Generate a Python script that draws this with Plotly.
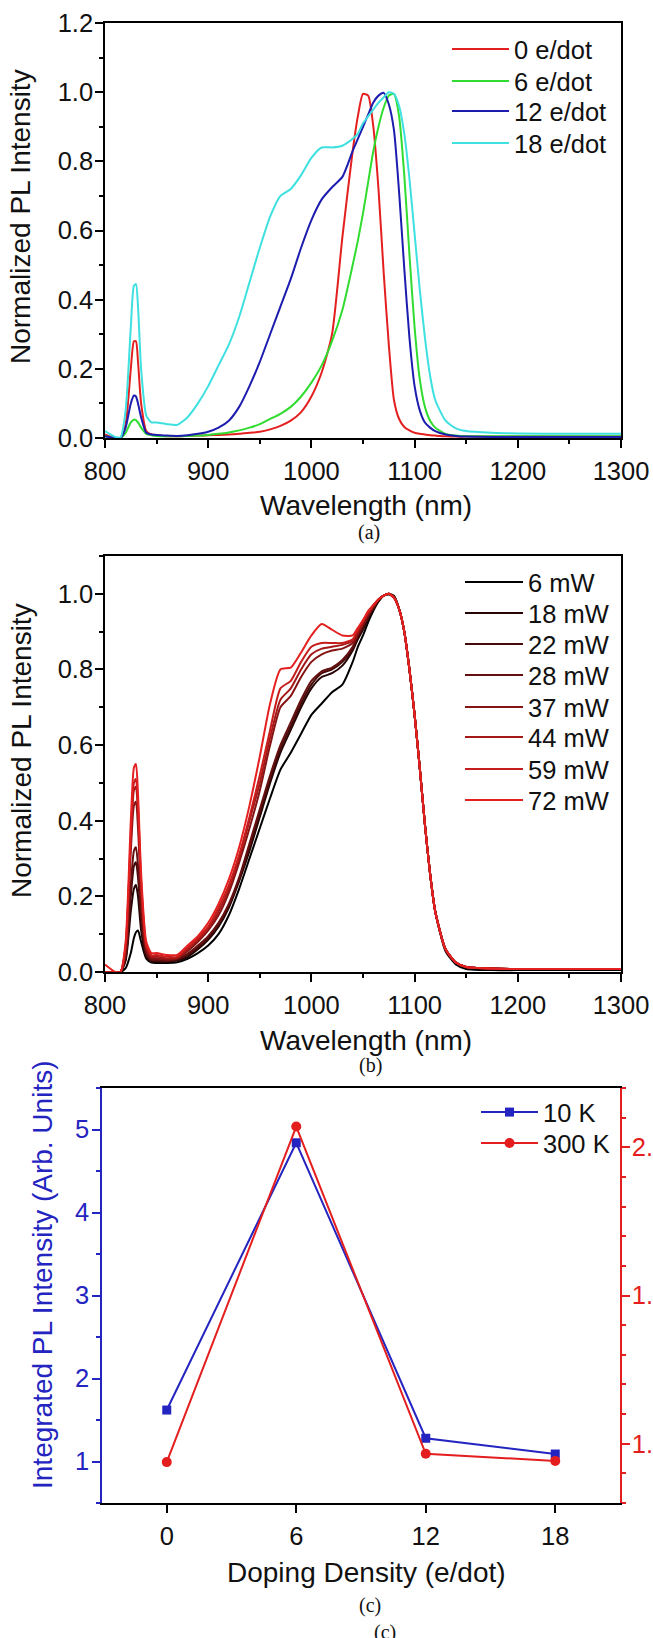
import plotly.graph_objects as go

# ---------------- data ----------------
wl = [800, 810, 815, 820, 825, 828, 830, 832, 835, 840,
      845, 850, 860, 870, 880, 890, 900, 910, 920, 930,
      940, 950, 960, 970, 980, 990, 1000, 1010, 1020, 1030,
      1040, 1045, 1050, 1055, 1060, 1065, 1070, 1075, 1080, 1085,
      1090, 1095, 1100, 1105, 1110, 1115, 1120, 1130, 1140, 1150,
      1175, 1200, 1250, 1300]

# panel (a): doping series
a_names = ["0 e/dot", "6 e/dot", "12 e/dot", "18 e/dot"]
a_0 = [0.01, 0.0, 0.0, 0.04, 0.2, 0.28, 0.28, 0.22, 0.1, 0.02,
       0.01, 0.008, 0.005, 0.005, 0.006, 0.007, 0.008, 0.009, 0.01, 0.012,
       0.015, 0.018, 0.025, 0.035, 0.05, 0.075, 0.12, 0.19, 0.3, 0.58,
       0.83, 0.93, 0.995, 0.99, 0.9, 0.72, 0.48, 0.27, 0.11, 0.055,
       0.032, 0.022, 0.015, 0.012, 0.01, 0.008, 0.007, 0.005, 0.004, 0.004,
       0.004, 0.004, 0.004, 0.004]
a_6 = [0.005, 0.0, 0.0, 0.015, 0.045, 0.053, 0.052, 0.045, 0.03, 0.012,
       0.008, 0.006, 0.005, 0.005, 0.006, 0.007, 0.009, 0.012, 0.016, 0.022,
       0.03, 0.04, 0.055, 0.07, 0.09, 0.12, 0.16, 0.21, 0.28, 0.37,
       0.5, 0.57, 0.65, 0.74, 0.83, 0.9, 0.955, 0.99, 0.995, 0.93,
       0.76, 0.53, 0.32, 0.17, 0.09, 0.05, 0.03, 0.012, 0.007, 0.005,
       0.005, 0.005, 0.005, 0.005]
a_12 = [0.005, 0.0, 0.0, 0.03, 0.1, 0.123, 0.12, 0.1, 0.06, 0.015,
        0.01, 0.009, 0.007, 0.006, 0.008, 0.012, 0.018, 0.03, 0.05, 0.09,
        0.15, 0.22, 0.3, 0.38, 0.46, 0.55, 0.63, 0.69, 0.725, 0.755,
        0.83, 0.865, 0.9, 0.935, 0.97, 0.99, 0.998, 0.965, 0.89, 0.71,
        0.49, 0.29, 0.15, 0.08, 0.045, 0.03, 0.02, 0.01, 0.006, 0.004,
        0.003, 0.003, 0.003, 0.003]
a_18 = [0.02, 0.003, 0.002, 0.08, 0.32, 0.44, 0.445, 0.38, 0.2, 0.065,
        0.045, 0.045, 0.04, 0.038, 0.06, 0.1, 0.15, 0.21, 0.27, 0.35,
        0.45, 0.55, 0.64, 0.7, 0.72, 0.76, 0.81, 0.84, 0.84, 0.845,
        0.865, 0.88, 0.91, 0.93, 0.95, 0.97, 0.985, 1.0, 0.995, 0.96,
        0.88, 0.75, 0.59, 0.43, 0.29, 0.18, 0.11, 0.05, 0.028, 0.02,
        0.015, 0.013, 0.012, 0.012]

# panel (b): excitation power series
b_names = ["6 mW", "18 mW", "22 mW", "28 mW", "37 mW", "44 mW", "59 mW", "72 mW"]
b_6 = [0.0, 0.0, 0.0, 0.01, 0.05, 0.09, 0.105, 0.11, 0.08, 0.035,
       0.025, 0.024, 0.024, 0.026, 0.035, 0.05, 0.07, 0.1, 0.15, 0.22,
       0.3, 0.38, 0.46, 0.535, 0.58, 0.63, 0.68, 0.71, 0.74, 0.76,
       0.82, 0.86, 0.89, 0.925, 0.955, 0.98, 0.995, 0.998, 0.995, 0.96,
       0.9, 0.8, 0.68, 0.54, 0.39, 0.26, 0.16, 0.055, 0.02, 0.008,
       0.005, 0.005, 0.005, 0.005]
b_18 = [0.0, 0.0, 0.0, 0.03, 0.16, 0.22, 0.23, 0.2, 0.11, 0.04,
        0.028, 0.027, 0.027, 0.03, 0.04, 0.06, 0.085, 0.12, 0.17, 0.24,
        0.32, 0.41, 0.5, 0.58, 0.64, 0.7, 0.75, 0.78, 0.79, 0.81,
        0.85, 0.88, 0.905, 0.935, 0.96, 0.98, 0.995, 1.0, 0.993, 0.96,
        0.9, 0.8, 0.68, 0.54, 0.39, 0.26, 0.16, 0.06, 0.025, 0.013,
        0.009, 0.008, 0.008, 0.008]
b_22 = [0.0, 0.0, 0.0, 0.035, 0.2, 0.28, 0.29, 0.25, 0.14, 0.045,
        0.03, 0.03, 0.029, 0.032, 0.045, 0.065, 0.09, 0.125, 0.175, 0.245,
        0.33, 0.42, 0.51, 0.59, 0.65, 0.71, 0.76, 0.79, 0.8, 0.82,
        0.855, 0.885, 0.91, 0.94, 0.96, 0.985, 0.995, 1.0, 0.992, 0.96,
        0.9, 0.8, 0.68, 0.54, 0.39, 0.26, 0.16, 0.06, 0.025, 0.013,
        0.009, 0.008, 0.008, 0.008]
b_28 = [0.0, 0.0, 0.0, 0.04, 0.23, 0.32, 0.33, 0.28, 0.16, 0.05,
        0.032, 0.032, 0.03, 0.034, 0.048, 0.07, 0.095, 0.13, 0.18, 0.25,
        0.34, 0.43, 0.52, 0.6, 0.66, 0.72, 0.77, 0.795, 0.805, 0.825,
        0.86, 0.89, 0.915, 0.94, 0.965, 0.985, 0.995, 1.0, 0.99, 0.96,
        0.9, 0.8, 0.68, 0.54, 0.39, 0.26, 0.16, 0.06, 0.025, 0.013,
        0.009, 0.008, 0.008, 0.008]
b_37 = [0.0, 0.0, 0.0, 0.06, 0.32, 0.44, 0.45, 0.38, 0.21, 0.06,
        0.036, 0.036, 0.033, 0.036, 0.055, 0.08, 0.11, 0.15, 0.21, 0.29,
        0.38, 0.48, 0.6, 0.7, 0.73, 0.78, 0.82, 0.84, 0.85, 0.855,
        0.87, 0.895, 0.92, 0.945, 0.965, 0.985, 0.995, 1.0, 0.99, 0.96,
        0.9, 0.8, 0.68, 0.54, 0.39, 0.26, 0.16, 0.06, 0.025, 0.013,
        0.009, 0.008, 0.008, 0.008]
b_44 = [0.0, 0.0, 0.0, 0.065, 0.35, 0.48, 0.49, 0.42, 0.23, 0.065,
        0.04, 0.04, 0.036, 0.038, 0.06, 0.085, 0.115, 0.16, 0.22, 0.3,
        0.4, 0.5, 0.62, 0.72, 0.75, 0.8, 0.84, 0.855, 0.86, 0.865,
        0.875, 0.9, 0.925, 0.95, 0.97, 0.985, 0.995, 1.0, 0.99, 0.96,
        0.9, 0.8, 0.68, 0.54, 0.39, 0.26, 0.16, 0.06, 0.025, 0.013,
        0.009, 0.008, 0.008, 0.008]
b_59 = [0.0, 0.0, 0.0, 0.07, 0.36, 0.5, 0.51, 0.44, 0.24, 0.07,
        0.044, 0.045, 0.04, 0.04, 0.065, 0.09, 0.12, 0.17, 0.23, 0.31,
        0.41, 0.52, 0.64, 0.75, 0.77, 0.82, 0.86, 0.87, 0.87, 0.87,
        0.88, 0.905, 0.93, 0.95, 0.97, 0.985, 0.995, 1.0, 0.99, 0.96,
        0.9, 0.8, 0.68, 0.54, 0.39, 0.26, 0.16, 0.06, 0.025, 0.013,
        0.009, 0.008, 0.008, 0.008]
b_72 = [0.02, 0.0, 0.0, 0.08, 0.4, 0.54, 0.55, 0.47, 0.26, 0.08,
        0.05, 0.05, 0.045, 0.045, 0.07, 0.095, 0.13, 0.18, 0.245, 0.33,
        0.44, 0.57, 0.71, 0.8, 0.805, 0.845, 0.89, 0.92, 0.905, 0.89,
        0.89, 0.91, 0.93, 0.955, 0.97, 0.985, 0.995, 1.0, 0.99, 0.96,
        0.9, 0.8, 0.68, 0.54, 0.39, 0.26, 0.16, 0.06, 0.025, 0.013,
        0.009, 0.008, 0.008, 0.008]

# panel (c): integrated intensity
doping = [0, 6, 12, 18]
int_10K = [1.62, 4.84, 1.28, 1.09]
int_300K = [0.938, 2.07, 0.966, 0.942]

# ---------------- styling ----------------
W, H = 653, 1638
SANS = "Liberation Sans, Arial, sans-serif"
SERIF = "Liberation Serif, Times New Roman, serif"
BLUE = "#2424c0"
RED = "#e41e1e"
a_colors = ["#e41f1f", "#2fdc2f", "#1c1cae", "#3ee0e0"]
b_colors = ["#000000", "#250505", "#450a0a", "#651010", "#851414", "#a51818", "#c51c1c", "#e52020"]
TICK_SIZE = 25.5


def fx(p):
    return p / W


def fy(p):
    return 1 - p / H


fig = go.Figure()

a_series = [a_0, a_6, a_12, a_18]
a_rows = [49, 81, 111, 143]
legend_specs = []
for i, (nm, ys, c) in enumerate(zip(a_names, a_series, a_colors)):
    lid = "legend" if i == 0 else f"legend{i + 1}"
    fig.add_trace(go.Scatter(x=wl, y=ys, name=nm, mode="lines",
                             line=dict(color=c, width=2, shape="spline", smoothing=0.6),
                             xaxis="x", yaxis="y", legend=lid))
    legend_specs.append((lid, 447, a_rows[i], 57))

b_series = [b_6, b_18, b_22, b_28, b_37, b_44, b_59, b_72]
b_rows = [582, 613, 644, 675, 707, 737, 769, 800]
for j, (nm, ys, c) in enumerate(zip(b_names, b_series, b_colors)):
    lid = f"legend{5 + j}"
    fig.add_trace(go.Scatter(x=wl, y=ys, name=nm, mode="lines",
                             line=dict(color=c, width=2, shape="spline", smoothing=0.6),
                             xaxis="x2", yaxis="y2", legend=lid))
    legend_specs.append((lid, 460, b_rows[j], 58))

fig.add_trace(go.Scatter(x=doping, y=int_10K, name="10 K", mode="lines+markers",
                         line=dict(color=BLUE, width=2),
                         marker=dict(symbol="square", size=9, color=BLUE),
                         xaxis="x3", yaxis="y3", legend="legend13"))
legend_specs.append(("legend13", 476, 1112, 57))
fig.add_trace(go.Scatter(x=doping, y=int_300K, name="300 K", mode="lines+markers",
                         line=dict(color=RED, width=2),
                         marker=dict(symbol="circle", size=10, color=RED),
                         xaxis="x3", yaxis="y4", legend="legend14"))
legend_specs.append(("legend14", 476, 1143, 57))

layout_legends = {}
for lid, lx, row, iw in legend_specs:
    layout_legends[lid] = dict(x=fx(lx), y=fy(row - 23), xanchor="left", yanchor="top",
                               bgcolor="rgba(0,0,0,0)", borderwidth=0, itemwidth=iw,
                               font=dict(family=SANS, size=25.5, color="#111111"))


def axis_style(color="black", **kw):
    d = dict(showline=True, linecolor=color, linewidth=1.5, ticks="outside", ticklen=8,
             tickwidth=1.5, tickcolor=color, showgrid=False, zeroline=False,
             automargin=False,
             tickfont=dict(family=SANS, size=TICK_SIZE, color=color if color != "black" else "#111111"))
    d.update(kw)
    return d


def minor(dt, color="black"):
    return dict(dtick=dt, ticks="outside", ticklen=4.5, tickwidth=1.5, tickcolor=color, showgrid=False)


fig.update_layout(
    width=W, height=H, template="none",
    paper_bgcolor="white", plot_bgcolor="white",
    margin=dict(l=0, r=0, t=0, b=0),
    showlegend=True,
    xaxis=axis_style(domain=[fx(105), fx(621)], anchor="y", range=[800, 1300], dtick=100,
                     mirror=True, minor=minor(50), ticklabelstandoff=2),
    yaxis=axis_style(domain=[fy(438), fy(23)], anchor="x", range=[0, 1.2], dtick=0.2,
                     tickformat=".1f", mirror=True, minor=minor(0.1), ticklabelstandoff=-3),
    xaxis2=axis_style(domain=[fx(105), fx(621)], anchor="y2", range=[800, 1300], dtick=100,
                      mirror=True, minor=minor(50), ticklabelstandoff=2),
    yaxis2=axis_style(domain=[fy(972), fy(556)], anchor="x2", range=[0, 1.1], dtick=0.2,
                      tickformat=".1f", mirror=True, minor=minor(0.1), ticklabelstandoff=-3),
    xaxis3=axis_style(domain=[fx(102), fx(620)], anchor="y3", range=[-3, 21],
                      tickvals=doping, mirror=True, ticklabelstandoff=2),
    yaxis3=axis_style(color=BLUE, domain=[fy(1503), fy(1088)], anchor="x3", range=[0.5, 5.5],
                      dtick=1, minor=minor(0.5, BLUE), ticklabelstandoff=-2),
    yaxis4=axis_style(color=RED, overlaying="y3", side="right", anchor="x3", range=[0.8, 2.2],
                      dtick=0.5, tickformat=".1f", minor=minor(0.1, RED), ticklabelstandoff=-3),
    **layout_legends,
)

annos = [
    ("Normalized PL Intensity", 21, 217, 28, SANS, "#111111", -90),
    ("Wavelength (nm)", 366, 505, 28, SANS, "#111111", 0),
    ("(a)", 369, 533, 20, SERIF, "#111111", 0),
    ("Normalized PL Intensity", 22, 751, 28, SANS, "#111111", -90),
    ("Wavelength (nm)", 366, 1040, 28, SANS, "#111111", 0),
    ("(b)", 370, 1065, 20, SERIF, "#111111", 0),
    ("Integrated PL Intensity (Arb. Units)", 42, 1275, 28, SANS, BLUE, -90),
    ("Doping Density (e/dot)", 366, 1572, 28, SANS, "#111111", 0),
    ("(c)", 370, 1605, 20, SERIF, "#111111", 0),
    ("(c)", 385, 1632, 20, SERIF, "#111111", 0),
]
for text, x, y, size, fam, col, ang in annos:
    fig.add_annotation(text=text, x=fx(x), y=fy(y), xref="paper", yref="paper",
                       xanchor="center", yanchor="middle", showarrow=False, textangle=ang,
                       font=dict(family=fam, size=size, color=col))

fig.write_html("out.html", config={"displayModeBar": False},
               post_script="document.body.style.margin='0';")
